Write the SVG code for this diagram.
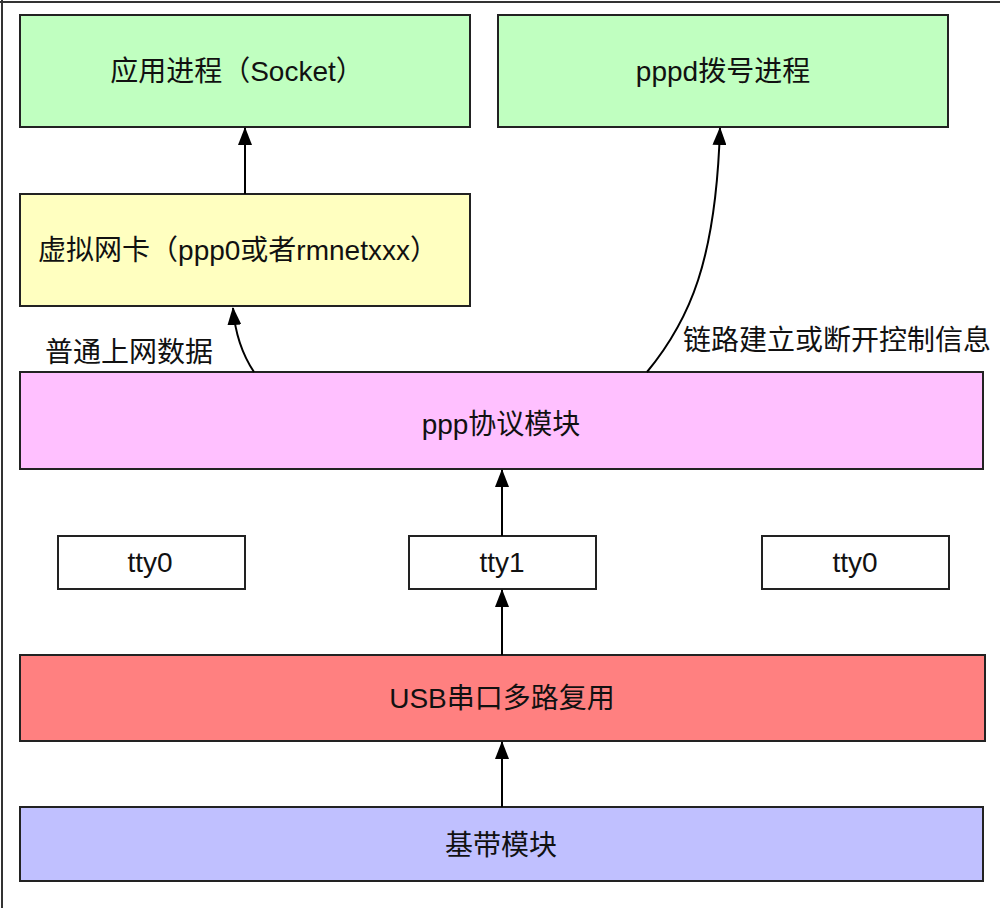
<svg xmlns="http://www.w3.org/2000/svg" width="1000" height="908" viewBox="0 0 1000 908">
<defs>
<marker id="ah" viewBox="0 0 18 14" refX="17" refY="7" markerWidth="18" markerHeight="14" markerUnits="userSpaceOnUse" orient="auto">
<path d="M0,0 L18,7 L0,14 Z" fill="#000"/>
</marker>
<style>
.box{stroke:#222;stroke-width:2}
.t{font-family:"Liberation Sans","Noto Sans CJK SC",sans-serif;font-size:28px;fill:#111;text-anchor:middle}
.lbl{font-family:"Liberation Sans","Noto Sans CJK SC",sans-serif;font-size:28px;fill:#111}
.c{fill:none;stroke:#000;stroke-width:2;marker-end:url(#ah)}
</style>
</defs>
<rect width="1000" height="908" fill="#fff"/>
<line x1="0" y1="2" x2="1000" y2="2" stroke="#333" stroke-width="2"/>
<line x1="2" y1="0" x2="2" y2="908" stroke="#333" stroke-width="2"/>
<g id="app">
<rect class="box" x="20" y="15" width="450" height="112" fill="#C0FFC0"/>
<text class="t" x="237" y="81">应用进程（Socket）</text>
</g>
<g id="pppd">
<rect class="box" x="498" y="15" width="450" height="112" fill="#C0FFC0"/>
<text class="t" x="723" y="81">pppd拨号进程</text>
</g>
<g id="vnic">
<rect class="box" x="20" y="194" width="450" height="112" fill="#FFFFC0"/>
<text class="t" x="238" y="260">虚拟网卡（ppp0或者rmnetxxx）</text>
</g>
<g id="ppp">
<rect class="box" x="20" y="372" width="963" height="97" fill="#FFC0FF"/>
<text class="t" x="501" y="434">ppp协议模块</text>
</g>
<g id="tty0a">
<rect class="box" x="58" y="536" width="187" height="53" fill="#fff"/>
<text class="t" x="150" y="572">tty0</text>
</g>
<g id="tty1">
<rect class="box" x="409" y="536" width="187" height="53" fill="#fff"/>
<text class="t" x="502" y="572">tty1</text>
</g>
<g id="tty0b">
<rect class="box" x="762" y="536" width="187" height="53" fill="#fff"/>
<text class="t" x="855" y="572">tty0</text>
</g>
<g id="usb">
<rect class="box" x="20" y="655" width="965" height="86" fill="#FF8080"/>
<text class="t" x="502" y="708">USB串口多路复用</text>
</g>
<g id="baseband">
<rect class="box" x="20" y="807" width="963" height="74" fill="#C0C0FF"/>
<text class="t" x="501" y="855">基带模块</text>
</g>
<g id="connectors">
<line class="c" x1="245" y1="194" x2="245" y2="128"/>
<path class="c" d="M254,372 Q236,345 233,308"/>
<path class="c" d="M647,372 C690,320 716,260 720,128"/>
<line class="c" x1="502" y1="536" x2="502" y2="470"/>
<line class="c" x1="502" y1="655" x2="502" y2="590"/>
<line class="c" x1="502" y1="807" x2="502" y2="742"/>
<text class="lbl" x="45" y="362">普通上网数据</text>
<text class="lbl" x="683" y="350">链路建立或断开控制信息</text>
</g>
</svg>
